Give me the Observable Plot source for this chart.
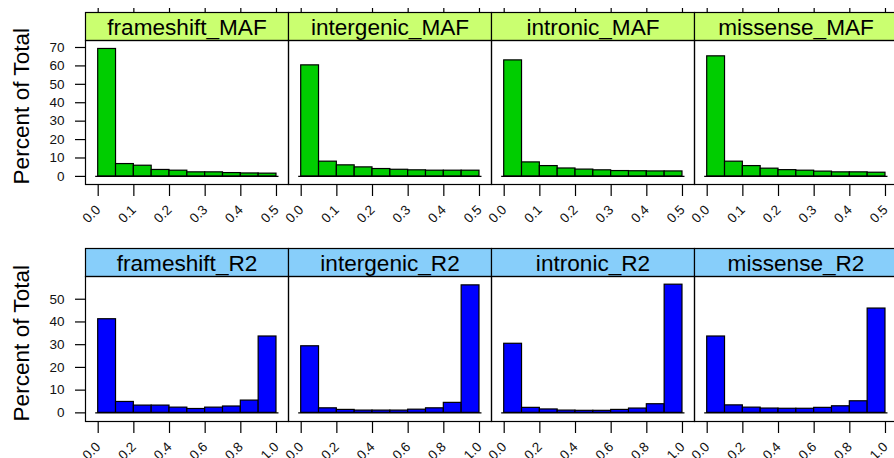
<!DOCTYPE html>
<html><head><meta charset="utf-8">
<script src="https://cdn.jsdelivr.net/npm/d3@7"></script>
<script src="https://cdn.jsdelivr.net/npm/@observablehq/plot@0.6"></script>
<style>
html,body{margin:0;padding:0;background:#fff;overflow:hidden;}
#wrap{position:relative;width:894px;height:458px;overflow:hidden;background:#fff;}
#wrap svg{position:absolute;left:0;overflow:visible;max-width:none;}
</style></head><body><div id="wrap"></div>
<script>
// ---- data (percent of total per histogram bin) ----
const categories = ["frameshift", "intergenic", "intronic", "missense"];

const mafBreaks = [0, 0.05, 0.1, 0.15, 0.2, 0.25, 0.3, 0.35, 0.4, 0.45, 0.5];
const r2Breaks  = [0, 0.1, 0.2, 0.3, 0.4, 0.5, 0.6, 0.7, 0.8, 0.9, 1.0];

const frameshiftMAF = [69.2, 6.7, 5.8, 3.5, 3.1, 2.2, 2.2, 1.8, 1.6, 1.5];
const intergenicMAF = [60.3, 8.0, 6.0, 4.9, 4.0, 3.6, 3.3, 3.1, 3.1, 3.1];
const intronicMAF   = [63.0, 7.6, 5.6, 4.3, 3.7, 3.3, 2.9, 2.8, 2.7, 2.7];
const missenseMAF   = [65.2, 8.0, 5.6, 4.2, 3.4, 3.1, 2.6, 2.2, 2.2, 2.0];

const frameshiftR2 = [41.2, 4.8, 3.2, 3.2, 2.3, 1.7, 2.3, 2.8, 5.4, 33.6];
const intergenicR2 = [29.3, 2.0, 1.3, 1.0, 1.0, 1.0, 1.4, 2.0, 4.4, 56.1];
const intronicR2   = [30.4, 2.2, 1.5, 1.0, 0.9, 0.9, 1.3, 1.9, 3.8, 56.4];
const missenseR2   = [33.6, 3.3, 2.3, 1.9, 1.8, 1.8, 2.2, 2.9, 5.1, 45.9];

const mafTicks = [0, 0.1, 0.2, 0.3, 0.4, 0.5];
const r2Ticks  = [0, 0.2, 0.4, 0.6, 0.8, 1.0];
const mafYTicks = [0, 10, 20, 30, 40, 50, 60, 70];
const r2YTicks  = [0, 10, 20, 30, 40, 50];

const mafDomainX = [-0.0356, 0.5337];
const r2DomainX  = [-0.0712, 1.0674];
const mafDomainY = [-4.4, 73.8];
const r2DomainY  = [-3.8, 60.0];

const yLabel = "Percent of Total";
// ---------------------------------------------------

const FONT = "'Liberation Sans', Arial, Helvetica, sans-serif";
const fmt = d3.format(".1f");

function buildRow({series, breaks, ticks, yTicks, xDomain, yDomain, suffix, stripFill, barFill,
                   marginTop, marginBottom, height, topTicks}) {
  const rows = categories.flatMap((c, i) => series[i].map((v, j) => ({cat: c, x1: breaks[j], x2: breaks[j + 1], pct: v})));
  const stripH = 28;
  const panelH = height - marginTop - marginBottom;
  const marks = [
    Plot.frame({fill: stripFill, stroke: "black", strokeWidth: 1.2, insetBottom: panelH - stripH, dy: -stripH}),
    Plot.frame({stroke: "black", strokeWidth: 1.2}),
    Plot.ruleY(categories, {fx: d => d, y: 0, x1: breaks[0], x2: breaks[breaks.length - 1],
                            insetLeft: -2.5, insetRight: -2.5, stroke: "black", strokeWidth: 1.4}),
    Plot.rectY(rows, {fx: "cat", x1: "x1", x2: "x2", y: "pct", fill: barFill, stroke: "black", strokeWidth: 1.2}),
    Plot.text(categories, {fx: d => d, text: d => d + suffix, frameAnchor: "top", dy: -13, lineAnchor: "middle",
                           fontSize: 22.6, fill: "black"}),
    Plot.axisX({ticks, tickSize: 12, tickFormat: () => "", label: null, strokeWidth: 1.2}),
    Plot.text(ticks, {x: d => d, text: d => fmt(d), frameAnchor: "bottom", dy: 23, rotate: -45,
                      textAnchor: "end", lineAnchor: "middle", fontSize: 13.5, fill: "#111"}),
    Plot.axisY({ticks: yTicks, tickSize: 10, tickPadding: 11, fontSize: 13.5, label: null, strokeWidth: 1.2,
                fill: "#111", tickFormat: d => String(d)}),
    Plot.text([yLabel], {frameAnchor: "left", facetAnchor: "left", rotate: -90, dx: -57, dy: panelH / 2,
                         lineAnchor: "bottom", fontSize: 22.6, fill: "black"})
  ];
  if (topTicks) marks.push(Plot.axisX({anchor: "top", ticks, tickSize: 5, tickFormat: () => "", label: null, dy: -stripH, strokeWidth: 1.2}));
  return Plot.plot({
    width: 917, height, marginTop, marginBottom, marginLeft: 85, marginRight: 20,
    style: {fontFamily: FONT, fontSize: "13px", overflow: "visible", background: "transparent", color: "black"},
    fx: {domain: categories, padding: 0, axis: null},
    x: {domain: xDomain, axis: null},
    y: {domain: yDomain, axis: null},
    marks
  });
}

const topRow = buildRow({
  series: [frameshiftMAF, intergenicMAF, intronicMAF, missenseMAF], breaks: mafBreaks, ticks: mafTicks, yTicks: mafYTicks,
  xDomain: mafDomainX, yDomain: mafDomainY, suffix: "_MAF", stripFill: "#CAFF70", barFill: "#00CD00",
  marginTop: 40, marginBottom: 46, height: 230, topTicks: true
});
const bottomRow = buildRow({
  series: [frameshiftR2, intergenicR2, intronicR2, missenseR2], breaks: r2Breaks, ticks: r2Ticks, yTicks: r2YTicks,
  xDomain: r2DomainX, yDomain: r2DomainY, suffix: "_R2", stripFill: "#87CEFA", barFill: "#0000FF",
  marginTop: 46, marginBottom: 37, height: 228, topTicks: false
});
topRow.style.top = "0px";
bottomRow.style.top = "230px";
const wrap = document.getElementById("wrap");
wrap.appendChild(topRow);
wrap.appendChild(bottomRow);
</script></body></html>
